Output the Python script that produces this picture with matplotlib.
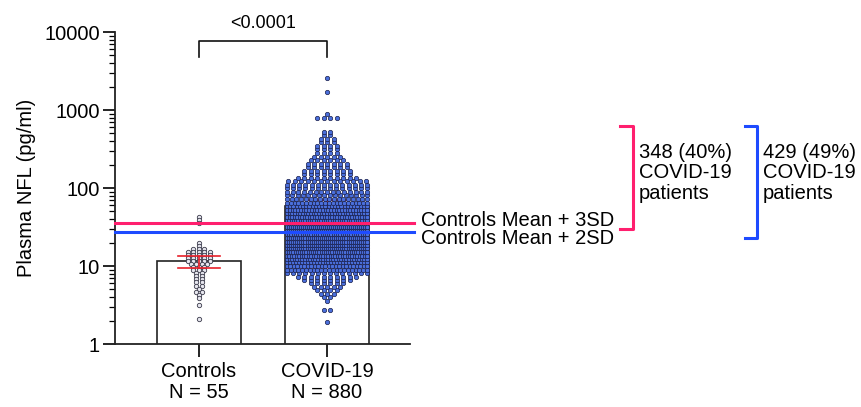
import numpy as np
import matplotlib
matplotlib.use("Agg")
import matplotlib.pyplot as plt
from matplotlib.ticker import FixedLocator, FixedFormatter, LogLocator, NullFormatter

plt.rcParams['font.family'] = ['Liberation Sans', 'DejaVu Sans']

# ---------------- data ----------------
categories = ["Controls\nN = 55", "COVID-19\nN = 880"]
bar_means = [11.5, 59.0]
err_low = [9.5, 50.0]
err_high = [13.5, 70.0]

# beeswarm rows: value level (pg/ml) and number of points at that level
ctrl_levels = [43, 39, 36, 19.5, 18, 16.5, 15.2, 14, 12.8, 11.7, 10.7, 9.8, 9.0, 8.2,
               7.5, 6.8, 6.2, 5.6, 5.1, 4.6, 4.2, 3.9, 3.2, 2.1]
ctrl_counts = [1, 1, 1, 1, 1, 3, 5, 5, 5, 5, 4, 3, 3, 2,
               2, 2, 2, 2, 1, 2, 1, 1, 1, 1]

covid_levels = [1.9, 2.7, 3.6, 4.0, 4.4, 4.9, 5.4, 6.0, 6.6, 7.3, 8.1, 9.0, 10.0, 11.1,
                12.3, 13.6, 15.1, 16.8, 18.6, 20.6, 22.9, 25.4, 28.2, 31.3,
                38.6, 42.9, 47.6, 52.8, 58.6, 65.1, 72.2, 80.2, 89.0, 98.8, 110, 122,
                135, 150, 167, 185, 205, 228, 253, 281, 312, 346, 384, 427, 474, 526,
                800, 900, 1700, 2600]
covid_counts = [1, 2, 1, 2, 3, 4, 5, 6, 8, 10, 14, 22, 24, 28,
                32, 34, 38, 40, 40, 40, 40, 37, 40, 41,
                36, 33, 31, 30, 26, 22, 18, 16, 15, 14, 14, 13,
                10, 8, 8, 7, 7, 6, 5, 4, 4, 4, 3, 3, 2, 2,
                4, 1, 1, 1]

mean3sd = 35.2
mean2sd = 27.0
p_text = "<0.0001"
line3_label = "Controls Mean + 3SD"
line2_label = "Controls Mean + 2SD"
pink_text = "348 (40%)\nCOVID-19\npatients"
blue_text = "429 (49%)\nCOVID-19\npatients"

PINK = "#FF1F6E"
BLUE = "#1E4BFF"

# ---------------- figure ----------------
W, H = 862, 407
fig = plt.figure(figsize=(W / 100, H / 100), dpi=100)

def fx(px):
    return px / W

def fy(py):
    return 1 - py / H

ax_l, ax_r, ax_t, ax_b = 115, 410, 32, 344
ax = fig.add_axes([fx(ax_l), fy(ax_b), fx(ax_r) - fx(ax_l), fy(ax_t) - fy(ax_b)])
ax.set_yscale("log")
ax.set_ylim(1, 10000)
ppu = 128.0  # pixels per category unit
ax.set_xlim(-(199 - ax_l) / ppu, 1 + (ax_r - 327) / ppu)

xpos = [0, 1]
bar_w = 84 / ppu
ax.bar(xpos, bar_means, width=bar_w, bottom=0.0001, color="white", edgecolor="#222222",
       linewidth=1.2, zorder=1)

# error bars (red)
for i, x in enumerate(xpos):
    z = 4 if i == 0 else 2
    ax.plot([x, x], [err_low[i], err_high[i]], color="#E8202A", lw=1.2, zorder=z)
    for v in (err_low[i], err_high[i]):
        ax.plot([x - bar_w / 4, x + bar_w / 4], [v, v], color="#E8202A", lw=1.2, zorder=z)

def swarm(levels, counts, center, half_width, d):
    xs, ys = [], []
    for lv, n in zip(levels, counts):
        step = d
        if n > 1 and (n - 1) * d > 2 * half_width:
            step = 2 * half_width / (n - 1)
        offs = (np.arange(n) - (n - 1) / 2) * step
        xs.extend(center + offs)
        ys.extend([lv] * n)
    return np.array(xs), np.array(ys)

cx, cy = swarm(ctrl_levels, ctrl_counts, 0, 0.2, 5.5 / ppu)
ax.scatter(cx, cy, s=10, facecolor="#E8E8F0", edgecolor="#3A3A4A", linewidth=0.6, zorder=3)
vx, vy = swarm(covid_levels, covid_counts, 1, 40 / ppu, 6.5 / ppu)
ax.scatter(vx, vy, s=10, facecolor="#4A6FDC", edgecolor="#1A1F4A", linewidth=0.5, zorder=3)

# reference lines
xmax_frac = (414 - ax_l) / (ax_r - ax_l)
ax.axhline(mean3sd, xmin=0, xmax=xmax_frac, color=PINK, lw=2.2, clip_on=False, zorder=5)
ax.axhline(mean2sd, xmin=0, xmax=xmax_frac, color=BLUE, lw=2.2, clip_on=False, zorder=5)

# axes styling
for s in ("top", "right"):
    ax.spines[s].set_visible(False)
ax.spines["left"].set_linewidth(1.3)
ax.spines["bottom"].set_linewidth(1.3)
ax.spines["left"].set_color("#222222")
ax.spines["bottom"].set_color("#222222")
ax.yaxis.set_major_locator(FixedLocator([1, 10, 100, 1000, 10000]))
ax.yaxis.set_major_formatter(FixedFormatter(["1", "10", "100", "1000", "10000"]))
ax.yaxis.set_minor_locator(LogLocator(base=10, subs=np.arange(2, 10)))
ax.yaxis.set_minor_formatter(NullFormatter())
ax.tick_params(axis="y", which="major", length=9, width=1.2, labelsize=14.5, pad=2)
ax.tick_params(axis="y", which="minor", length=4.5, width=0.9)
ax.set_xticks(xpos)
ax.set_xticklabels(categories, fontsize=14.5, linespacing=1.15)
ax.tick_params(axis="x", length=9, width=1.2, pad=4)
ax.set_ylabel("Plasma NFL (pg/ml)", fontsize=14.5, labelpad=6)

# significance bracket
ax.plot([0, 0, 1, 1], [10 ** (4 - (57 - ax_t) / 78), 10 ** (4 - (41 - ax_t) / 78),
                       10 ** (4 - (41 - ax_t) / 78), 10 ** (4 - (57 - ax_t) / 78)],
        color="#111111", lw=1.2, clip_on=False)
fig.text(fx(263), fy(23), p_text, ha="center", va="center", fontsize=13)

# right side labels
fig.text(fx(421), fy(221), line3_label, ha="left", va="center", fontsize=14.5)
fig.text(fx(421), fy(239), line2_label, ha="left", va="center", fontsize=14.5)

def bracket(x0, x1, y0, y1, color):
    fig.add_artist(plt.Line2D([fx(x0), fx(x1), fx(x1), fx(x0)],
                              [fy(y0), fy(y0), fy(y1), fy(y1)],
                              color=color, lw=2.2, transform=fig.transFigure))

bracket(620, 633, 126, 229, PINK)
bracket(745, 757, 126, 238, BLUE)
fig.text(fx(639), fy(143), pink_text, ha="left", va="top", fontsize=14.5, linespacing=1.1)
fig.text(fx(763), fy(143), blue_text, ha="left", va="top", fontsize=14.5, linespacing=1.1)

fig.savefig("out.png", dpi=100, facecolor="white")
